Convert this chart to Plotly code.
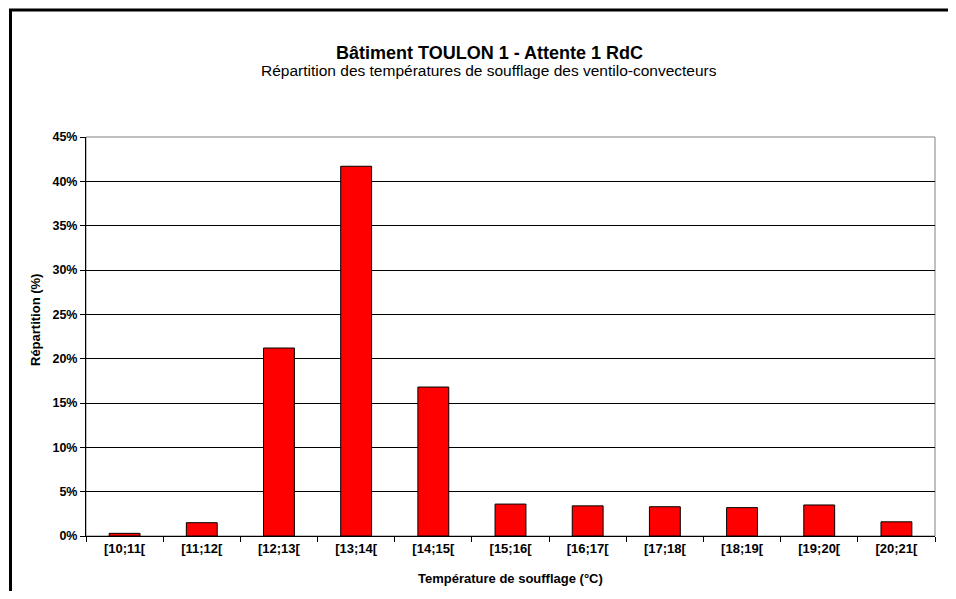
import plotly.graph_objects as go

categories = ["[10;11[", "[11;12[", "[12;13[", "[13;14[", "[14;15[", "[15;16[",
              "[16;17[", "[17;18[", "[18;19[", "[19;20[", "[20;21["]
values = [0.003, 0.015, 0.212, 0.417, 0.168, 0.036, 0.034, 0.033, 0.032, 0.035, 0.016]
y_ticks = [0, 0.05, 0.10, 0.15, 0.20, 0.25, 0.30, 0.35, 0.40, 0.45]
y_tick_labels = ["0%", "5%", "10%", "15%", "20%", "25%", "30%", "35%", "40%", "45%"]

title_text = "Bâtiment TOULON 1 - Attente 1 RdC"
subtitle_text = "Répartition des températures de soufflage des ventilo-convecteurs"
x_title = "Température de soufflage (°C)"
y_title = "Répartition (%)"

FONT = "Arial, Liberation Sans, sans-serif"

# the page body has an 8px margin: work in page coordinates, shifted by OFF
OFF = 8
W, H = 956 - 2 * OFF, 599 - 2 * OFF
PL, PR, PT, PB = 86, 935, 137, 536          # plot area in page pixels
L, R, T, B = PL - OFF, W - (PR - OFF), PT - OFF, H - (PB - OFF)
pw = W - L - R
ph = H - T - B

def px(x):
    return (x - OFF - L) / pw

def py(y):
    return (H - B - (y - OFF)) / ph

fig = go.Figure()
fig.add_trace(go.Bar(
    x=categories, y=values,
    marker=dict(color="#FF0000", line=dict(color="#000000", width=1)),
    hoverinfo="x+y",
))

fig.update_layout(
    width=W, height=H,
    margin=dict(l=L, r=R, t=T, b=B),
    paper_bgcolor="white", plot_bgcolor="white",
    bargap=0.6,
    showlegend=False,
    font=dict(family=FONT, color="black"),
    xaxis=dict(
        type="category",
        showgrid=False,
        showline=True, linecolor="black", linewidth=1,
        ticks="outside", tickson="boundaries", ticklen=5, tickcolor="black",
        tickfont=dict(family=FONT, size=13, color="black", weight="bold"),
        zeroline=False,
    ),
    yaxis=dict(
        range=[0, 0.45],
        tickvals=y_ticks, ticktext=y_tick_labels,
        showgrid=True, gridcolor="black", gridwidth=1,
        showline=True, linecolor="black", linewidth=1,
        ticks="outside", ticklen=5, tickcolor="black",
        tickfont=dict(family=FONT, size=12.5, color="black", weight="bold"),
        zeroline=False,
    ),
    shapes=[
        dict(type="rect", xref="paper", yref="paper", x0=0, y0=0, x1=1, y1=1,
             line=dict(color="#808080", width=1), layer="below"),
        dict(type="rect", xref="paper", yref="paper",
             x0=px(10.5), y0=py(640), x1=px(1000), y1=py(10),
             line=dict(color="black", width=3), layer="above"),
    ],
    annotations=[
        dict(text="<b>" + title_text + "</b>", xref="paper", yref="paper",
             x=px(489), y=py(53), showarrow=False, xanchor="center", yanchor="middle",
             font=dict(family=FONT, size=18, color="black")),
        dict(text=subtitle_text, xref="paper", yref="paper",
             x=px(489), y=py(71), showarrow=False, xanchor="center", yanchor="middle",
             font=dict(family=FONT, size=15.5, color="black")),
        dict(text="<b>" + x_title + "</b>", xref="paper", yref="paper",
             x=px(510), y=py(578), showarrow=False, xanchor="center", yanchor="middle",
             font=dict(family=FONT, size=13, color="black")),
        dict(text="<b>" + y_title + "</b>", xref="paper", yref="paper",
             x=px(35), y=py(320), showarrow=False, xanchor="center", yanchor="middle",
             textangle=-90,
             font=dict(family=FONT, size=13, color="black")),
    ],
)

fig.write_html("out.html")
